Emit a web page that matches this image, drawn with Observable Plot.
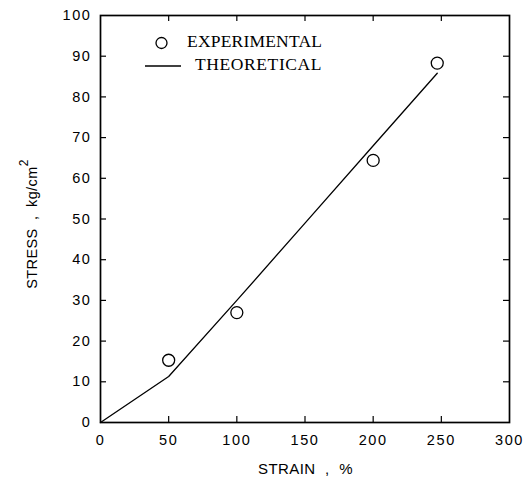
<!DOCTYPE html>
<html>
<head>
<meta charset="utf-8">
<script src="https://cdn.jsdelivr.net/npm/d3@7"></script>
<script src="https://cdn.jsdelivr.net/npm/@observablehq/plot@0.6"></script>
<style>
  html, body { margin: 0; padding: 0; background: #fff; }
  #chart svg { display: block; }
</style>
</head>
<body>
<div id="chart"></div>
<script>
// Experimental data
const expStrain = [50, 100, 200, 247];
const expStress = [15.3, 27, 64.4, 88.3];
// Theoretical curve
const theoStrain = [0, 50, 100, 150, 200, 247];
const theoStress = [0, 11.3, 30, 49, 68, 85.8];
// Ticks
const xTicks = [0, 50, 100, 150, 200, 250, 300];
const yTicks = [0, 10, 20, 30, 40, 50, 60, 70, 80, 90, 100];
// Texts
const xLabel = "STRAIN , %";
const yLabelMain = "STRESS , kg/cm";
const yLabelSup = "2";
const legendExp = "EXPERIMENTAL";
const legendTheo = "THEORETICAL";

const expData = expStrain.map((x, i) => ({x, y: expStress[i]}));
const theoData = theoStrain.map((x, i) => ({x, y: theoStress[i]}));

const W = 529, H = 486;
const mL = 100, mR = 20, mT = 15, mB = 64;
const fw = W - mL - mR, fh = H - mT - mB;
const tick = 6;
const sans = "'Liberation Sans', Arial, sans-serif";
const serif = "'Liberation Serif', 'Times New Roman', serif";

const plot = Plot.plot({
  width: W, height: H,
  marginLeft: mL, marginRight: mR, marginTop: mT, marginBottom: mB,
  style: {fontFamily: sans, fontSize: "14.5px", color: "#000", background: "#fff"},
  x: {domain: [0, 300], ticks: xTicks, label: null},
  y: {domain: [0, 100], ticks: yTicks, label: null},
  marks: [
    Plot.axisX({ticks: xTicks, tickSize: 0, tickPadding: 12, label: null, fontSize: 14.5}),
    Plot.axisY({ticks: yTicks, tickSize: 0, tickPadding: 9, label: null, fontSize: 14.5}),
    // inward ticks
    Plot.tickX(xTicks.slice(1, -1), {x: d => d, insetTop: fh - tick, stroke: "#000", strokeWidth: 1.2}),
    Plot.tickX(xTicks.slice(1, -1), {x: d => d, insetBottom: fh - tick, stroke: "#000", strokeWidth: 1.2}),
    Plot.tickY(yTicks.slice(1, -1), {y: d => d, insetRight: fw - tick, stroke: "#000", strokeWidth: 1.2}),
    Plot.tickY(yTicks.slice(1, -1), {y: d => d, insetLeft: fw - tick, stroke: "#000", strokeWidth: 1.2}),
    Plot.line(theoData, {x: "x", y: "y", stroke: "#000", strokeWidth: 1.3}),
    Plot.dot(expData, {x: "x", y: "y", r: 6, stroke: "#000", strokeWidth: 1.3, fill: "none"}),
    Plot.frame({stroke: "#000", strokeWidth: 1.7})
  ]
});

const svg = d3.select(plot);
// widen tick label spacing like the reference
svg.selectAll("[aria-label='x-axis tick label'] text, [aria-label='y-axis tick label'] text")
  .attr("letter-spacing", "1.6px");

// x label
svg.append("text")
  .attr("x", mL + fw / 2 + 1).attr("y", 470)
  .attr("text-anchor", "middle").attr("dominant-baseline", "middle")
  .attr("font-family", sans).attr("font-size", 15).attr("fill", "#000")
  .attr("word-spacing", "5px").attr("letter-spacing", "0.4px")
  .text(xLabel);
// y label
const yl = svg.append("text")
  .attr("transform", `translate(33, 224) rotate(-90)`)
  .attr("text-anchor", "middle").attr("dominant-baseline", "middle")
  .attr("font-family", sans).attr("font-size", 14.5).attr("fill", "#000")
  .attr("word-spacing", "4px").attr("letter-spacing", "0.4px");
yl.append("tspan").text(yLabelMain);
yl.append("tspan").attr("dy", -8).attr("font-size", 12).text(yLabelSup);

// legend
const lg = svg.append("g").attr("font-family", serif).attr("font-size", 17.5).attr("fill", "#000");
lg.append("circle").attr("cx", 161.5).attr("cy", 43).attr("r", 5.5)
  .attr("fill", "none").attr("stroke", "#000").attr("stroke-width", 1.3);
lg.append("text").attr("x", 187).attr("y", 43).attr("text-anchor", "start")
  .attr("dominant-baseline", "middle").attr("letter-spacing", "0.2px").text(legendExp);
lg.append("line").attr("x1", 145).attr("x2", 181).attr("y1", 66).attr("y2", 66)
  .attr("stroke", "#000").attr("stroke-width", 1.3);
lg.append("text").attr("x", 195).attr("y", 66).attr("text-anchor", "start")
  .attr("dominant-baseline", "middle").attr("letter-spacing", "0.6px").text(legendTheo);

document.getElementById("chart").appendChild(plot);
</script>
</body>
</html>
